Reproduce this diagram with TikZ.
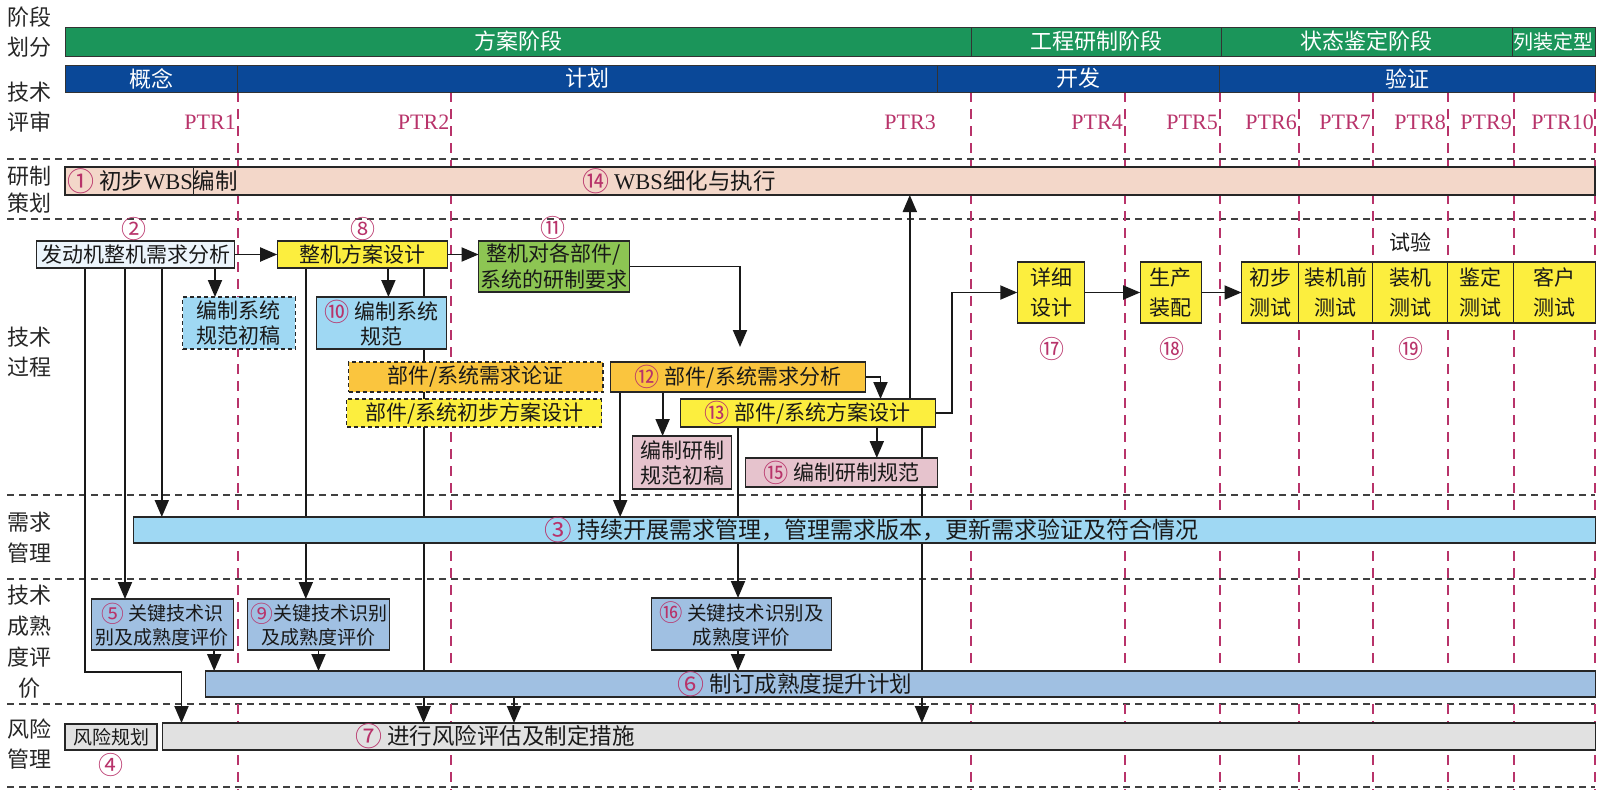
\documentclass[tikz,border=0pt]{standalone}
\usepackage{fontspec}
\usepackage{graphicx}
\setmainfont{Liberation Serif}
\newfontfamily\cjk{Noto Sans CJK SC}
\usetikzlibrary{arrows.meta}
\definecolor{ptrc}{HTML}{B8336A}
\definecolor{gbar}{HTML}{1B955A}
\definecolor{bbar}{HTML}{0A4898}
\definecolor{peach}{HTML}{F3D7C9}
\definecolor{ylw}{HTML}{FCEE3E}
\definecolor{org}{HTML}{FAC53E}
\definecolor{grn}{HTML}{8DC553}
\definecolor{lblue}{HTML}{9FD8F3}
\definecolor{sblue}{HTML}{A0C0E2}
\definecolor{pinkb}{HTML}{E6C3CD}
\definecolor{lgray}{HTML}{E1E1E1}
\definecolor{pale}{HTML}{ECF5FC}
\newcommand{\cnum}[1]{{\color{ptrc}\raisebox{-0.08em}{\scalebox{1.2}{#1}}}}
\newcommand{\fs}[2]{\fontsize{#1}{#2}\selectfont}
\pgfdeclarelayer{grid}\pgfdeclarelayer{conn}\pgfsetlayers{grid,conn,main}
\begin{document}
\begin{tikzpicture}[x=1pt,y=-1pt,
 box/.style={draw=black!85, line width=1.1pt, inner sep=0pt, outer sep=0pt, align=center, text=black!90, font=\cjk\fs{21}{25}},
 dbox/.style={box, dash pattern=on 4pt off 3pt},
 hdr/.style={draw=black!80, line width=1pt, inner sep=0pt, outer sep=0pt, text=white, font=\cjk\fs{22}{26}},
 rowlab/.style={align=center, inner sep=0pt, font=\cjk\fs{22}{30}, text=black!85},
 ptr/.style={anchor=east, inner sep=0pt, text=ptrc, font=\fs{22}{26}},
 num/.style={inner sep=0pt, text=ptrc, font=\cjk\fs{25}{28}},
 bartext/.style={inner sep=0pt, font=\cjk\fs{22.5}{26}, text=black!90},
 arr/.style={line width=1.9pt, draw=black!90, -{Triangle[length=17pt,width=14pt]}},
 gridk/.style={dash pattern=on 7pt off 5pt, line width=1.1pt, draw=black!75},
 gridm/.style={dash pattern=on 10pt off 7pt, line width=2pt, draw=ptrc},
 sz/.style 2 args={minimum width=#1pt, minimum height=#2pt},
]
\useasboundingbox (0,0) rectangle (1600,793);

% ---------- grid ----------
\begin{pgfonlayer}{grid}
\foreach \yy in {159,219,495,579,704,787}
  \draw[gridk] (7,\yy) -- (1595,\yy);
\foreach \xx in {237.6,451,971,1124.7,1219.8,1298.6,1372.7,1447.6,1513.6,1595}
  \draw[gridm] (\xx,92) -- (\xx,790);
\end{pgfonlayer}

% ---------- headers ----------
\node[hdr, fill=gbar, sz={906}{29}] (g1) at (518,41.5) {方案阶段};
\node[hdr, fill=gbar, sz={250}{29}] (g2) at (1096,41.5) {工程研制阶段};
\node[hdr, fill=gbar, sz={291}{29}] (g3) at (1366.5,41.5) {状态鉴定阶段};
\node[hdr, fill=gbar, sz={83}{29}, font=\cjk\fs{20}{24}] (g4) at (1553.5,41.5) {列装定型};
\node[hdr, fill=bbar, sz={172.6}{27}] (b1) at (151.3,78.5) {概念};
\node[hdr, fill=bbar, sz={699.8}{27}] (b2) at (587.5,78.5) {计划};
\node[hdr, fill=bbar, sz={282.4}{27}] (b3) at (1078.6,78.5) {开发};
\node[hdr, fill=bbar, sz={375.2}{27}] (b4) at (1407.4,78.5) {验证};

% ---------- row labels ----------
\node[rowlab] (L1) at (29,32) {阶段\\划分};
\node[rowlab] (L2) at (29,107) {技术\\评审};
\node[rowlab, font=\cjk\fs{22}{27}] (L3) at (29,190) {研制\\策划};
\node[rowlab] (L4) at (29,352) {技术\\过程};
\node[rowlab, font=\cjk\fs{22}{31}] (L5) at (29,537.5) {需求\\管理};
\node[rowlab, font=\cjk\fs{22}{31}] (L6) at (29,641.5) {技术\\成熟\\度评\\价};
\node[rowlab] (L7) at (29,744) {风险\\管理};

% ---------- PTR ----------
\node[ptr] (p1) at (236,122) {PTR1};
\node[ptr] (p2) at (449.5,122) {PTR2};
\node[ptr] (p3) at (936,122) {PTR3};
\node[ptr] (p4) at (1123,122) {PTR4};
\node[ptr] (p5) at (1218,122) {PTR5};
\node[ptr] (p6) at (1297,122) {PTR6};
\node[ptr] (p7) at (1371,122) {PTR7};
\node[ptr] (p8) at (1446,122) {PTR8};
\node[ptr] (p9) at (1512,122) {PTR9};
\node[ptr] (p10) at (1594,122) {PTR10};

% ---------- WBS ----------
\node[box, fill=peach, sz={1530}{28}] (wbs) at (830,181) {};
\draw[line width=1.1pt, black!85] (193.5,167) -- (193.5,195);
\node[bartext, anchor=west] (wbsA) at (67,181) {\cnum{①} 初步{\rmfamily WBS}编制};
\node[bartext, anchor=west] (wbsB) at (582,181) {\cnum{⑭} {\rmfamily WBS}细化与执行};

% ---------- technical process ----------
\node[box, fill=pale, sz={197.4}{27}] (n2) at (135.5,254.5) {发动机整机需求分析};
\node[box, fill=ylw, sz={170.5}{27}] (n8) at (362.45,254.5) {整机方案设计};
\node[box, fill=grn, sz={150.6}{51}, font=\cjk\fs{21}{26}] (n11) at (553.9,266.5) {整机对各部件/\\系统的研制要求};
\node[dbox, fill=lblue, sz={112.6}{52}] (spec) at (238.8,323) {编制系统\\规范初稿};
\node[box, fill=lblue, sz={129.5}{52}] (n10) at (381.55,323) {\cnum{⑩} 编制系统\\规范};
\node[dbox, fill=org, sz={254.5}{30}] (d1) at (475.75,377) {部件/系统需求论证};
\node[dbox, fill=ylw, sz={254.8}{28}] (d2) at (474.2,413) {部件/系统初步方案设计};
\node[box, fill=org, sz={255.5}{30}] (n12) at (737.95,377) {\cnum{⑫} 部件/系统需求分析};
\node[box, fill=ylw, sz={254.8}{28}] (n13) at (807.9,413) {\cnum{⑬} 部件/系统方案设计};
\node[box, fill=pinkb, sz={98.8}{53}] (dr2) at (682,462.5) {编制研制\\规范初稿};
\node[box, fill=pinkb, sz={192.2}{29}] (n15) at (841.3,472.5) {\cnum{⑮} 编制研制规范};
\node[box, fill=ylw, sz={67.5}{61}, font=\cjk\fs{21}{30}] (n17) at (1051.05,292.5) {详细\\设计};
\node[box, fill=ylw, sz={61}{61}, font=\cjk\fs{21}{30}] (n18) at (1170.7,292.5) {生产\\装配};
\node[box, fill=ylw, sz={57.1}{61}, font=\cjk\fs{21}{30}] (t1) at (1270.05,292.5) {初步\\测试};
\node[box, fill=ylw, sz={74.1}{61}, font=\cjk\fs{21}{30}] (t2) at (1335.65,292.5) {装机前\\测试};
\node[box, fill=ylw, sz={75}{61}, font=\cjk\fs{21}{30}] (t3) at (1410.2,292.5) {装机\\测试};
\node[box, fill=ylw, sz={66.2}{61}, font=\cjk\fs{21}{30}] (t4) at (1480.8,292.5) {鉴定\\测试};
\node[box, fill=ylw, sz={81.6}{61}, font=\cjk\fs{21}{30}] (t5) at (1554.7,292.5) {客户\\测试};

\node[num] (c2) at (134.3,229) {②};
\node[num] (c8) at (363.3,229) {⑧};
\node[num] (c11n) at (553.4,228) {⑪};
\node[num] (c17) at (1051.7,349) {⑰};
\node[num] (c18) at (1171.9,349) {⑱};
\node[num] (c19) at (1411,349) {⑲};
\node[bartext, font=\cjk\fs{21}{25}] (sy) at (1410.6,242) {试验};

% ---------- requirement / maturity / risk ----------
\node[box, fill=lblue, sz={1461.9}{26}] (n3) at (864.55,530) {};
\node[bartext, font=\cjk\fs{23}{26}] (n3t) at (871.6,530) {\cnum{③} 持续开展需求管理，管理需求版本，更新需求验证及符合情况};
\node[box, fill=sblue, sz={141.8}{51}, font=\cjk\fs{19}{24}] (n5) at (162.2,624.5) {\cnum{⑤} 关键技术识\\别及成熟度评价};
\node[box, fill=sblue, sz={141.9}{51}, font=\cjk\fs{19}{24}] (n9) at (318.85,624.5) {\cnum{⑨}关键技术识别\\及成熟度评价};
\node[box, fill=sblue, sz={179.7}{52}, font=\cjk\fs{19.5}{24}] (n16) at (741.45,624) {\cnum{⑯} 关键技术识别及\\成熟度评价};
\node[box, fill=sblue, sz={1389.6}{26}] (n6) at (900.7,684) {};
\node[bartext] (n6t) at (795,684) {\cnum{⑥} 制订成熟度提升计划};
\node[box, fill=lgray, sz={92}{26}, font=\cjk\fs{19}{24}] (n4) at (111,737) {风险规划};
\node[num] (c4) at (111,765) {④};
\node[box, fill=lgray, sz={1432.6}{27}] (n7) at (879.2,736.5) {};
\node[bartext] (n7t) at (495,736.5) {\cnum{⑦} 进行风险评估及制定措施};

% ---------- connectors ----------
\coordinate (k1) at (85,672);
\coordinate (k2) at (181.5,672);
\coordinate (xb) at (125,0);
\coordinate (xc) at (161.8,0);
\coordinate (xd) at (215,0);
\coordinate (xe) at (305.8,0);
\coordinate (xf) at (388.4,0);
\coordinate (xg) at (423.6,0);
\coordinate (xh) at (214.2,0);
\coordinate (xi) at (318.5,0);
\coordinate (xj) at (514,0);
\coordinate (xk) at (620.2,0);
\coordinate (xl) at (662.6,0);
\coordinate (xm) at (738,0);
\coordinate (xn) at (876.8,0);
\coordinate (xo) at (880.5,0);
\coordinate (xp) at (921.9,0);
\coordinate (xq) at (909.8,0);
\coordinate (xr) at (951.8,0);
\coordinate (c11) at (740,347);

\begin{pgfonlayer}{conn}
\draw[arr] (n2.east) -- (n8.west);
\draw[arr] (n8.east) -- (n8.east -| n11.west);
\draw[arr] (n11.east) -| (c11);
\draw[arr] (n12.east) -| (n13.north -| xo);
\draw[arr] (n13.east) -| (xr |- n17.west) -- (n17.west);
\draw[arr] (n17.east) -- (n18.west);
\draw[arr] (n18.east) -- (t1.west);
\draw[arr] (n13.north -| xq) -- (wbs.south -| xq);
\draw[arr] (n2.south -| k1) -- (k1) -- (k2) -- (n7.north -| k2);
\draw[arr] (n2.south -| xb) -- (n5.north -| xb);
\draw[arr] (n2.south -| xc) -- (n3.north -| xc);
\draw[arr] (n2.south -| xd) -- (spec.north -| xd);
\draw[arr] (n8.south -| xe) -- (n9.north -| xe);
\draw[arr] (n8.south -| xf) -- (n10.north -| xf);
\draw[arr] (n8.south -| xg) -- (n7.north -| xg);
\draw[arr] (n5.south -| xh) -- (n6.north -| xh);
\draw[arr] (n9.south -| xi) -- (n6.north -| xi);
\draw[arr] (n6.south -| xj) -- (n7.north -| xj);
\draw[arr] (n12.south -| xk) -- (n3.north -| xk);
\draw[arr] (n12.south -| xl) -- (dr2.north -| xl);
\draw[arr] (n13.south -| xm) -- (n16.north -| xm);
\draw[arr] (n16.south -| xm) -- (n6.north -| xm);
\draw[arr] (n13.south -| xn) -- (n15.north -| xn);
\draw[arr] (n13.south -| xp) -- (n7.north -| xp);
\end{pgfonlayer}
\end{tikzpicture}
\end{document}
